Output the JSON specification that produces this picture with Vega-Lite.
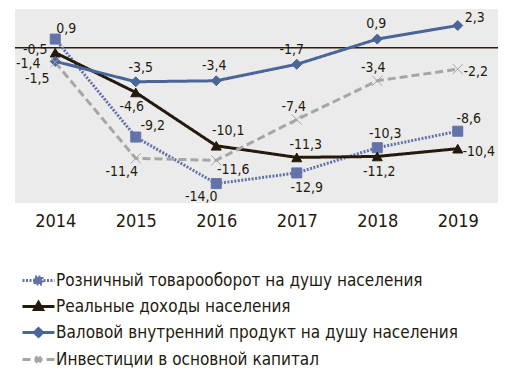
{
  "$schema": "https://vega.github.io/schema/vega-lite/v6.json",
  "width": 483,
  "height": 194,
  "padding": {"left": 14, "top": 9, "right": 15, "bottom": 5},
  "background": "white",
  "config": {
    "view": {"fill": "#ebebeb", "stroke": null},
    "font": "Liberation Sans Narrow, Arial Narrow, DejaVu Sans Condensed, sans-serif",
    "locale": {"number": {"decimal": ",", "thousands": " ", "grouping": [3], "currency": ["", ""], "minus": "-"}},
    "legend": {
      "orient": "none", "legendX": 12, "legendY": 260, "padding": 0,
      "labelFontSize": 17, "labelLimit": 600, "labelColor": "#231a0e",
      "symbolSize": 400, "rowPadding": 5, "labelOffset": 6, "symbolStrokeWidth": 3
    }
  },
  "data": {"values": [
    {"code": "R", "series": "Розничный товарооборот на душу населения", "year": "2014", "v": 0.9},
    {"code": "R", "series": "Розничный товарооборот на душу населения", "year": "2015", "v": -9.2},
    {"code": "R", "series": "Розничный товарооборот на душу населения", "year": "2016", "v": -14.0},
    {"code": "R", "series": "Розничный товарооборот на душу населения", "year": "2017", "v": -12.9},
    {"code": "R", "series": "Розничный товарооборот на душу населения", "year": "2018", "v": -10.3},
    {"code": "R", "series": "Розничный товарооборот на душу населения", "year": "2019", "v": -8.6},
    {"code": "I", "series": "Реальные доходы населения", "year": "2014", "v": -0.5},
    {"code": "I", "series": "Реальные доходы населения", "year": "2015", "v": -4.6},
    {"code": "I", "series": "Реальные доходы населения", "year": "2016", "v": -10.1},
    {"code": "I", "series": "Реальные доходы населения", "year": "2017", "v": -11.3},
    {"code": "I", "series": "Реальные доходы населения", "year": "2018", "v": -11.2},
    {"code": "I", "series": "Реальные доходы населения", "year": "2019", "v": -10.4},
    {"code": "G", "series": "Валовой внутренний продукт на душу населения", "year": "2014", "v": -1.4},
    {"code": "G", "series": "Валовой внутренний продукт на душу населения", "year": "2015", "v": -3.5},
    {"code": "G", "series": "Валовой внутренний продукт на душу населения", "year": "2016", "v": -3.4},
    {"code": "G", "series": "Валовой внутренний продукт на душу населения", "year": "2017", "v": -1.7},
    {"code": "G", "series": "Валовой внутренний продукт на душу населения", "year": "2018", "v": 0.9},
    {"code": "G", "series": "Валовой внутренний продукт на душу населения", "year": "2019", "v": 2.3},
    {"code": "V", "series": "Инвестиции в основной капитал", "year": "2014", "v": -1.5},
    {"code": "V", "series": "Инвестиции в основной капитал", "year": "2015", "v": -11.4},
    {"code": "V", "series": "Инвестиции в основной капитал", "year": "2016", "v": -11.6},
    {"code": "V", "series": "Инвестиции в основной капитал", "year": "2017", "v": -7.4},
    {"code": "V", "series": "Инвестиции в основной капитал", "year": "2018", "v": -3.4},
    {"code": "V", "series": "Инвестиции в основной капитал", "year": "2019", "v": -2.2}
  ]},
  "layer": [
    {
      "data": {"values": [{}]},
      "mark": {"type": "rule", "color": "#2b1d0e", "strokeWidth": 1.5},
      "encoding": {"y": {"datum": 0, "type": "quantitative", "scale": {"domain": [-16, 4], "nice": false, "zero": false}, "axis": null}}
    },
    {
      "encoding": {
        "x": {"field": "year", "type": "ordinal", "scale": {"type": "point", "padding": 0.5},
              "axis": {"title": null, "domain": false, "ticks": false, "grid": false, "labelAngle": 0,
                       "labelFontSize": 18, "labelColor": "#231a0e", "labelPadding": 9, "labelBaseline": "top"}},
        "y": {"field": "v", "type": "quantitative", "scale": {"domain": [-16, 4], "nice": false, "zero": false}, "axis": null}
      },
      "layer": [
        {
          "mark": {"type": "line", "strokeWidth": 3},
          "encoding": {
            "color": {"field": "series", "type": "nominal", "legend": null,
              "scale": {"domain": ["Розничный товарооборот на душу населения", "Реальные доходы населения", "Валовой внутренний продукт на душу населения", "Инвестиции в основной капитал"],
                        "range": ["#6372a8", "#241a0c", "#4a6597", "#a6a6a6"]}},
            "strokeDash": {"field": "series", "type": "nominal", "legend": null,
              "scale": {"domain": ["Розничный товарооборот на душу населения", "Реальные доходы населения", "Валовой внутренний продукт на душу населения", "Инвестиции в основной капитал"],
                        "range": [[2, 1.5], [1, 0], [1, 0], [8, 4]]}}
          }
        },
        {
          "mark": {"type": "point", "filled": true, "size": 100, "opacity": 1},
          "encoding": {
            "fill": {"field": "series", "type": "nominal", "legend": null,
              "scale": {"domain": ["Розничный товарооборот на душу населения", "Реальные доходы населения", "Валовой внутренний продукт на душу населения", "Инвестиции в основной капитал"],
                        "range": ["#6372a8", "#241a0c", "#4a6597", "#a6a6a6"]}},
            "stroke": {"field": "series", "type": "nominal", "legend": null,
              "scale": {"domain": ["Розничный товарооборот на душу населения", "Реальные доходы населения", "Валовой внутренний продукт на душу населения", "Инвестиции в основной капитал"],
                        "range": ["#6372a8", "#241a0c", "#4a6597", "#a6a6a6"]}},
            "strokeWidth": {"field": "series", "type": "nominal", "legend": null,
              "scale": {"domain": ["Розничный товарооборот на душу населения", "Реальные доходы населения", "Валовой внутренний продукт на душу населения", "Инвестиции в основной капитал"],
                        "range": [1, 1, 1, 3]}},
            "shape": {"field": "series", "type": "nominal", "legend": null,
              "scale": {"domain": ["Розничный товарооборот на душу населения", "Реальные доходы населения", "Валовой внутренний продукт на душу населения", "Инвестиции в основной капитал"],
                        "range": ["square", "triangle-up", "diamond", "M-1,-1L1,1M-1,1L1,-1"]}}
          }
        },
        {
          "mark": {"type": "point", "filled": true, "size": 400, "opacity": 0},
          "encoding": {
            "color": {"field": "series", "type": "nominal",
              "legend": {"title": null, "encode": {"symbols": {"update": {"fill": {"scale": "color", "field": "value"}, "stroke": {"scale": "color", "field": "value"}, "opacity": {"value": 1}, "strokeWidth": {"value": 3}}}}}},
            "strokeDash": {"field": "series", "type": "nominal",
              "legend": {"title": null, "encode": {"symbols": {"update": {"fill": {"scale": "color", "field": "value"}, "stroke": {"scale": "color", "field": "value"}, "opacity": {"value": 1}, "strokeWidth": {"value": 3}}}}}},
            "shape": {"field": "series", "type": "nominal",
              "legend": {"title": null, "encode": {"symbols": {"update": {"fill": {"scale": "color", "field": "value"}, "stroke": {"scale": "color", "field": "value"}, "opacity": {"value": 1}, "strokeWidth": {"value": 3}}}}},
              "scale": {"domain": ["Розничный товарооборот на душу населения", "Реальные доходы населения", "Валовой внутренний продукт на душу населения", "Инвестиции в основной капитал"],
                        "range": ["M-1.6,0H1.6M-0.35,-0.35H0.35V0.35H-0.35Z", "M-1.6,0H1.6M0,-0.4L0.4,0.3H-0.4Z", "M-1.6,0H1.6M0,-0.4L0.4,0L0,0.4L-0.4,0Z", "M-1.6,0H1.6M-0.3,-0.3L0.3,0.3M-0.3,0.3L0.3,-0.3"]}}
          }
        },
        {
          "mark": {"type": "text", "fontSize": 14, "color": "#231a0e", "align": "center", "baseline": "middle",
            "dx": {"expr": "{'R2014':11,'R2015':17,'R2016':-15,'R2017':10,'R2018':8,'R2019':11,'I2014':-20,'I2015':-4,'I2016':12,'I2017':9,'I2018':2,'I2019':21,'G2014':-27,'G2015':5,'G2016':-2,'G2017':-5,'G2018':-1,'G2019':17,'V2014':-18,'V2015':-14,'V2016':17,'V2017':-3,'V2018':-4,'V2019':18}[datum.code+datum.year]"},
            "dy": {"expr": "{'R2014':-10,'R2015':-11,'R2016':13,'R2017':15,'R2018':-14,'R2019':-12,'I2014':-3,'I2015':15,'I2016':-15,'I2017':-12,'I2018':16,'I2019':3,'G2014':3,'G2015':-14,'G2016':-15,'G2017':-14,'G2018':-15,'G2019':-7,'V2014':17,'V2015':14,'V2016':10,'V2017':-13,'V2018':-13,'V2019':3}[datum.code+datum.year]"}},
          "encoding": {"text": {"field": "v", "type": "quantitative", "format": ".1f"}}
        }
      ],
      "resolve": {"scale": {"shape": "independent"}, "legend": {"shape": "independent", "color": "independent", "strokeDash": "independent"}}
    }
  ]
}
